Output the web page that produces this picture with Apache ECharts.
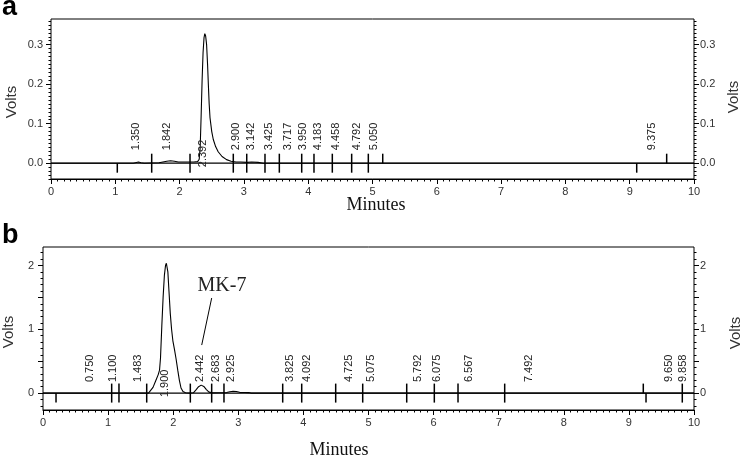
<!DOCTYPE html>
<html><head><meta charset="utf-8">
<script src="https://cdn.jsdelivr.net/npm/echarts@6.0.0/dist/echarts.min.js"></script>
<style>html,body{margin:0;padding:0;background:#fff}#c{width:742px;height:459px}</style>
</head><body><div id="c"></div>
<script>
// ---------- DATA ----------
const signalA = [[0,0],[1.28,0],[1.31,0.002],[1.36,0.003],[1.40,0.001],[1.45,0],[1.68,0.001],[1.74,0.003],[1.80,0.005],[1.86,0.006],[1.92,0.005],[1.98,0.003],[2.10,0.003],[2.22,0.003],[2.28,0.004],[2.305,0.01],[2.32,0.04],[2.335,0.12],[2.35,0.21],[2.365,0.28],[2.38,0.318],[2.392,0.328],[2.405,0.322],[2.42,0.30],[2.435,0.25],[2.447,0.20],[2.46,0.15],[2.473,0.115],[2.50,0.08],[2.524,0.06],[2.56,0.042],[2.60,0.029],[2.66,0.017],[2.73,0.009],[2.80,0.005],[2.88,0.003],[2.95,0.003],[3.05,0.002],[3.12,0.003],[3.22,0.002],[3.3,0],[10,0]];
const signalB = [[0,0],[1.62,0],[1.65,0.02],[1.69,0.09],[1.73,0.19],[1.77,0.29],[1.79,0.36],[1.805,0.55],[1.825,1.05],[1.845,1.5],[1.865,1.85],[1.882,2.0],[1.895,2.035],[1.905,2.03],[1.918,1.9],[1.935,1.6],[1.955,1.25],[1.975,1.0],[1.995,0.82],[2.02,0.68],[2.045,0.53],[2.07,0.36],[2.095,0.2],[2.12,0.08],[2.15,0.025],[2.19,0.006],[2.25,0],[2.31,0.005],[2.35,0.05],[2.39,0.1],[2.43,0.125],[2.47,0.105],[2.51,0.055],[2.55,0.015],[2.60,0.003],[2.70,0.006],[2.82,0.008],[2.87,0.02],[2.92,0.028],[2.97,0.025],[3.02,0.012],[3.10,0.01],[3.16,0.008],[3.2,0],[10,0]];
const baselineA = [[0,0],[10,0]];
const baselineB = [[0,0],[10,0]];

// integration marks: position (min) and kind: b = both sides, u = up, d = down
const markPosA  = [1.031,1.566,2.162,2.835,3.044,3.328,3.551,3.899,4.090,4.375,4.676,4.935,5.159,9.109,9.575];
const markKindA = ['d','b','b','b','b','b','b','b','b','b','b','b','u','d','u'];
const markPosB  = [0.20,1.055,1.167,1.593,2.263,2.591,2.780,3.682,3.974,4.496,4.911,5.587,6.011,6.375,7.092,9.221,9.263,9.820];
const markKindB = ['d','b','b','b','b','b','b','b','b','b','b','b','b','b','b','u','d','b'];

// retention-time labels
const peakLabelsA = ['1.350','1.842','2.392','2.900','3.142','3.425','3.717','3.950','4.183','4.458','4.792','5.050','9.375'];
const lowLabelsA  = ['2.392'];
const peakLabelsB = ['0.750','1.100','1.483','1.900','2.442','2.683','2.925','3.825','4.092','4.725','5.075','5.792','6.075','6.567','7.492','9.650','9.858'];
const lowLabelsB  = ['1.900'];

// axis ticks
const xTicks = [0,1,2,3,4,5,6,7,8,9,10];
const yLabelsA = [0,0.1,0.2,0.3];
const yMajorA = [0,0.1,0.2,0.3];
const yLabelsB = [0,1,2];
const yMajorB = [0,0.5,1,1.5,2];
const yMinorA = []; for (let i=-4;i<=36;i++) yMinorA.push(i/100);
const yMinorB = []; for (let i=-2;i<=22;i++) yMinorB.push(i/10);

// annotation
const mk7Text = 'MK-7';
const mk7TextAt = [2.75, 1.69];
const mk7Leader = [[2.438, 0.753], [2.591, 1.49]];

// ---------- CHART ----------
const chart = echarts.init(document.getElementById('c'), null, {renderer:'canvas'});
const tickFont = {fontSize:11, color:'#333', fontFamily:'Liberation Sans, Arial, sans-serif'};

function xAxis(g){
  return {type:'value', gridIndex:g, min:0, max:10, interval:1,
    axisLine:{show:true, onZero:false, lineStyle:{color:'#000', width:1}},
    axisTick:{show:true, length:5, lineStyle:{color:'#000'}},
    minorTick:{show:true, splitNumber:10, length:2.5, lineStyle:{color:'#000'}},
    splitLine:{show:false}, minorSplitLine:{show:false},
    axisLabel:Object.assign({margin:7}, tickFont)};
}
function yAxes(g, min, max, major, minor, labels, fmt, lm, rm){
  const base = {type:'value', gridIndex:g, min:min, max:max, splitLine:{show:false},
    axisLine:{show:false, onZero:false}};
  return [
    Object.assign({}, base, {position:'left',
      axisTick:{show:true, length:5, customValues:major, lineStyle:{color:'#000'}},
      axisLabel:Object.assign({margin:lm, customValues:labels, formatter:fmt}, tickFont)}),
    Object.assign({}, base, {position:'left',
      axisTick:{show:true, length:2.5, customValues:minor, lineStyle:{color:'#000'}},
      axisLabel:{show:false}}),
    Object.assign({}, base, {position:'right',
      axisTick:{show:true, length:5, customValues:major, lineStyle:{color:'#000'}},
      axisLabel:Object.assign({margin:rm, customValues:labels, formatter:fmt}, tickFont)}),
    Object.assign({}, base, {position:'right',
      axisTick:{show:true, length:2.5, customValues:minor, lineStyle:{color:'#000'}},
      axisLabel:{show:false}})
  ];
}

function markSeries(g, yi, pos, kind){
  return {type:'custom', xAxisIndex:g, yAxisIndex:yi, silent:true, z:4,
    data: pos.map((p,i)=>[p, kind[i]==='b'?0:(kind[i]==='u'?1:2)]),
    renderItem:function(params, api){
      const c = api.coord([api.value(0), 0]);
      const k = api.value(1);
      const up = (k===0||k===1)?9.5:0, dn = (k===0||k===2)?9.5:0;
      return {type:'line', shape:{x1:c[0], y1:c[1]-up, x2:c[0], y2:c[1]+dn},
        style:{stroke:'#000', lineWidth:1.5}};
    }};
}
function labelSeries(g, yi, labels, lows, gap){
  return {type:'custom', xAxisIndex:g, yAxisIndex:yi, silent:true, z:5,
    data: labels.map(s=>[parseFloat(s), lows.indexOf(s)>=0?1:0]),
    renderItem:function(params, api){
      const c = api.coord([api.value(0), 0]);
      const low = api.value(1)===1;
      return {type:'text', x:c[0]-2, y: low ? c[1]+4 : c[1]-gap, rotation:Math.PI/2,
        style:{text:labels[params.dataIndex], fontSize:11, fontFamily:'Liberation Sans, Arial, sans-serif',
          fill:'#222', align:'left', verticalAlign:'middle'}};
    }};
}
function lineSeries(g, yi, data, w){
  return {type:'line', xAxisIndex:g, yAxisIndex:yi, data:data, symbol:'none', silent:true,
    lineStyle:{color:'#000', width:w}, z:3, animation:false};
}

const option = {
  animation:false,
  backgroundColor:'#fff',
  grid:[
    {left:51, top:19, width:643, height:160, show:true, borderColor:'#000', borderWidth:1, backgroundColor:'transparent'},
    {left:43, top:247, width:651, height:163, show:true, borderColor:'#000', borderWidth:1, backgroundColor:'transparent'}
  ],
  xAxis:[xAxis(0), xAxis(1)],
  yAxis:[].concat(
    yAxes(0, -0.04, 0.365, yMajorA, yMinorA, yLabelsA, v=>Number(v).toFixed(1), 8, 6),
    yAxes(1, -0.265, 2.29, yMajorB, yMinorB, yLabelsB, v=>String(v), 9, 6)
  ),
  series:[
    lineSeries(0, 0, baselineA, 1.2),
    lineSeries(0, 0, signalA, 1.1),
    markSeries(0, 0, markPosA, markKindA),
    labelSeries(0, 0, peakLabelsA, lowLabelsA, 13),
    lineSeries(1, 4, baselineB, 1.2),
    lineSeries(1, 4, signalB, 1.1),
    markSeries(1, 4, markPosB, markKindB),
    labelSeries(1, 4, peakLabelsB, lowLabelsB, 11),
    {type:'custom', xAxisIndex:1, yAxisIndex:4, silent:true, z:6,
      data:[[mk7TextAt[0], mk7TextAt[1], mk7Leader[0][0], mk7Leader[0][1], mk7Leader[1][0], mk7Leader[1][1]]],
      renderItem:function(params, api){
        const t = api.coord([api.value(0), api.value(1)]);
        const a = api.coord([api.value(2), api.value(3)]);
        const b = api.coord([api.value(4), api.value(5)]);
        return {type:'group', children:[
          {type:'line', shape:{x1:a[0], y1:a[1], x2:b[0], y2:b[1]}, style:{stroke:'#000', lineWidth:1}},
          {type:'text', x:t[0], y:t[1], style:{text:mk7Text, fontSize:20, fontFamily:'Liberation Serif, Times New Roman, serif',
            fill:'#222', align:'center', verticalAlign:'middle'}}
        ]};
      }}
  ],
  graphic:[
    {type:'text', x:2, y:8, style:{text:'a', font:'bold 27px Liberation Sans, Arial, sans-serif', fill:'#000', align:'left', verticalAlign:'middle'}},
    {type:'text', x:2, y:235.5, style:{text:'b', font:'bold 27px Liberation Sans, Arial, sans-serif', fill:'#000', align:'left', verticalAlign:'middle'}},
    {type:'text', x:376, y:205, style:{text:'Minutes', font:'18px Liberation Serif, Times New Roman, serif', fill:'#111', align:'center', verticalAlign:'middle'}},
    {type:'text', x:339, y:450, style:{text:'Minutes', font:'18px Liberation Serif, Times New Roman, serif', fill:'#111', align:'center', verticalAlign:'middle'}},
    {type:'text', x:12, y:102, rotation:Math.PI/2, style:{text:'Volts', font:'15px Liberation Sans, Arial, sans-serif', fill:'#333', align:'center', verticalAlign:'middle'}},
    {type:'text', x:734, y:97, rotation:Math.PI/2, style:{text:'Volts', font:'15px Liberation Sans, Arial, sans-serif', fill:'#333', align:'center', verticalAlign:'middle'}},
    {type:'text', x:9, y:332, rotation:Math.PI/2, style:{text:'Volts', font:'15px Liberation Sans, Arial, sans-serif', fill:'#333', align:'center', verticalAlign:'middle'}},
    {type:'text', x:736, y:333, rotation:Math.PI/2, style:{text:'Volts', font:'15px Liberation Sans, Arial, sans-serif', fill:'#333', align:'center', verticalAlign:'middle'}}
  ]
};
chart.setOption(option);
</script>
</body></html>
